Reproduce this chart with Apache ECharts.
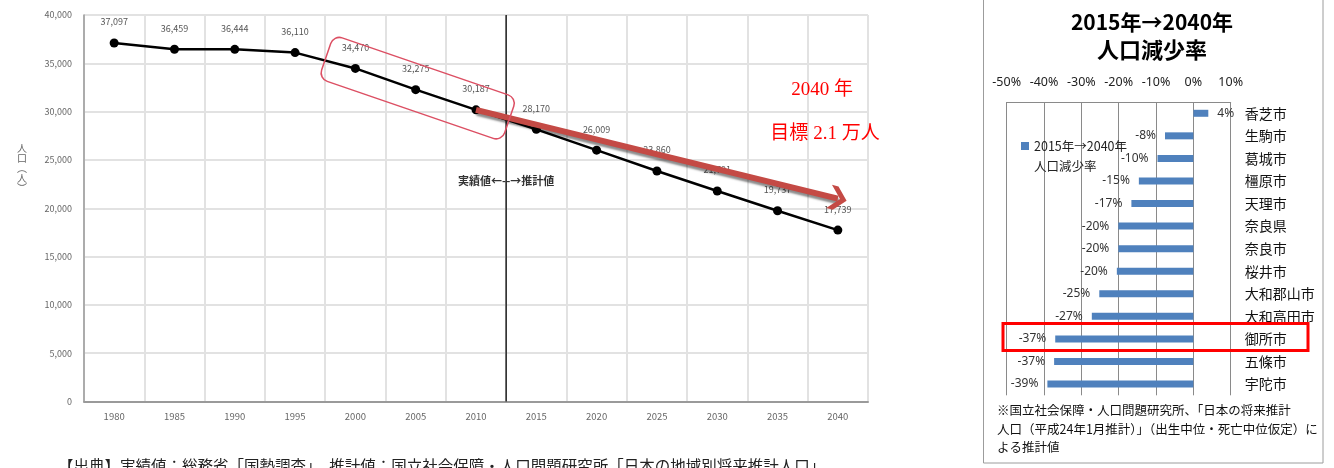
<!DOCTYPE html>
<html>
<head>
<meta charset="utf-8">
<title>御所市 人口推移と人口減少率</title>
<style>
html, body { margin: 0; padding: 0; background: #fff; }
#main { width: 1334px; height: 468px; }
</style>
<script src="https://cdn.jsdelivr.net/npm/echarts@6/dist/echarts.min.js"></script>
</head>
<body>
<div id="main"></div>
<script type="text/javascript">
// left chart: population (actual until 2010, projection from 2015)
var years = ['1980', '1985', '1990', '1995', '2000', '2005', '2010', '2015', '2020', '2025', '2030', '2035', '2040'];
var population = [37097, 36459, 36444, 36110, 34470, 32275, 30187, 28170, 26009, 23860, 21791, 19737, 17739];
var popTicks = { min: 0, max: 40000, interval: 5000 };
var dividerPos = 7;          // boundary between 2010 (actual) and 2015 (projection)
var targetYear = '2040';
var targetPop = 21000;       // 目標 2.1万人
var boxFrom = '2000', boxTo = '2010';

// right chart: decline rate 2015 -> 2040
var cities = ['香芝市', '生駒市', '葛城市', '橿原市', '天理市', '奈良県', '奈良市', '桜井市', '大和郡山市', '大和高田市', '御所市', '五條市', '宇陀市'];
var rates = [4.0, -7.6, -9.6, -14.6, -16.6, -20.1, -20.1, -20.5, -25.2, -27.2, -37.0, -37.3, -39.1];
var rateTicks = { min: -50, max: 10, interval: 10 };
var highlightCity = '御所市';

var jp = "'Noto Sans CJK JP', 'Noto Sans', sans-serif";
var chevron = 'path://M0,16 L10,6 L20,16 L20,10 L10,0 L0,10 Z';
// square on the first text line (tiny speck keeps the icon box tall)
var legendIcon = 'path://M0,0 H8 V8 H0 Z M0,27.9 H0.02 V28 H0 Z';

var chartDom = document.getElementById('main');
var myChart = echarts.init(chartDom);

var option = {
  animation: false,
  backgroundColor: '#fff',
  textStyle: { fontFamily: jp },
  grid: [
    { left: 84, right: 466, top: 15, bottom: 66.5 },
    { left: 1006.7, right: 103.3, top: 102, bottom: 72.7 }
  ],
  legend: {
    left: 1016, top: 131,
    itemWidth: 8, itemHeight: 28, itemGap: 4,
    icon: legendIcon,
    textStyle: { fontSize: 12.5, color: '#222', lineHeight: 20, fontFamily: jp },
    data: ['2015年→2040年\n人口減少率']
  },
  xAxis: [
    {
      type: 'category', gridIndex: 0, data: years, boundaryGap: true,
      axisLine: { lineStyle: { color: '#9a9a9a', width: 2 } },
      axisTick: { show: false },
      axisLabel: { fontSize: 9.5, color: '#666', margin: 10 },
      splitLine: { show: true, lineStyle: { color: '#e2e2e2', width: 2 } }
    },
    {
      type: 'value', gridIndex: 0, min: 0, max: years.length, show: false
    },
    {
      type: 'value', gridIndex: 1, position: 'top',
      min: rateTicks.min, max: rateTicks.max, interval: rateTicks.interval,
      axisLine: { show: true, lineStyle: { color: '#8a8a8a' } },
      axisTick: { show: false },
      axisLabel: { formatter: '{value}%', fontSize: 12.5, color: '#222', margin: 13, fontFamily: "'Noto Sans', sans-serif" },
      splitLine: { show: true, lineStyle: { color: '#8a8a8a' } }
    }
  ],
  yAxis: [
    {
      type: 'value', gridIndex: 0,
      min: popTicks.min, max: popTicks.max, interval: popTicks.interval,
      axisLine: { show: true, lineStyle: { color: '#9a9a9a', width: 1.5 } },
      axisTick: { show: false },
      axisLabel: { fontSize: 9, color: '#666', margin: 12, formatter: function (v) { return v.toLocaleString('en-US'); } },
      splitLine: { show: true, lineStyle: { color: '#e2e2e2', width: 2 } }
    },
    {
      type: 'category', gridIndex: 1, data: cities, inverse: true, position: 'right',
      axisLine: { show: false },
      axisTick: { show: false },
      axisLabel: { fontSize: 14, color: '#111', margin: 14, align: 'left' },
      splitLine: { show: false }
    }
  ],
  series: [
    {
      name: '人口', type: 'line', xAxisIndex: 0, yAxisIndex: 0,
      data: population,
      symbol: 'circle', symbolSize: 9,
      itemStyle: { color: '#000' },
      lineStyle: { color: '#000', width: 2.5 },
      label: {
        show: true, position: 'top', distance: 12,
        fontSize: 9, color: '#555',
        formatter: function (p) { return p.value.toLocaleString('en-US'); }
      },
      markLine: {
        silent: true,
        symbol: ['none', chevron],
        symbolSize: [24, 18],
        label: { show: false },
        lineStyle: {
          color: '#c44a45', width: 6, type: 'solid',
          shadowColor: 'rgba(0,0,0,0.45)', shadowOffsetY: 3, shadowOffsetX: 1, shadowBlur: 2
        },
        itemStyle: { color: '#c44a45' },
        data: [[
          { coord: [years.indexOf('2010'), population[years.indexOf('2010')]] },
          { coord: [years.indexOf(targetYear), targetPop] }
        ]]
      },
      z: 3
    },
    {
      name: 'divider', type: 'line', xAxisIndex: 1, yAxisIndex: 0,
      data: [[dividerPos, popTicks.min], [dividerPos, popTicks.max]],
      symbol: 'none', silent: true,
      lineStyle: { color: '#222', width: 1.5 },
      z: 2
    },
    {
      name: '2015年→2040年\n人口減少率', type: 'bar', xAxisIndex: 2, yAxisIndex: 1,
      barWidth: 7,
      itemStyle: { color: '#4f81bd' },
      label: {
        show: true, fontSize: 12, color: '#333', distance: 9,
        fontFamily: "'Noto Sans', sans-serif",
        formatter: function (p) { return Math.round(p.value) + '%'; }
      },
      data: rates.map(function (v) {
        return { value: v, label: { position: v < 0 ? 'left' : 'right' } };
      })
    }
  ]
};
myChart.setOption(option);

// annotations placed from the axes
var p1 = myChart.convertToPixel({ xAxisIndex: 0, yAxisIndex: 0 }, [years.indexOf(boxFrom), population[years.indexOf(boxFrom)]]);
var p2 = myChart.convertToPixel({ xAxisIndex: 0, yAxisIndex: 0 }, [years.indexOf(boxTo), population[years.indexOf(boxTo)]]);
var ang = Math.atan2(p2[1] - p1[1], p2[0] - p1[0]);
var len = Math.sqrt(Math.pow(p2[0] - p1[0], 2) + Math.pow(p2[1] - p1[1], 2)) + 66;
var boxH = 46;
var divX = myChart.convertToPixel({ xAxisIndex: 1 }, dividerPos);
var hy = myChart.convertToPixel({ yAxisIndex: 1 }, highlightCity);

myChart.setOption({
  graphic: [
    {
      type: 'rect', x: (p1[0] + p2[0]) / 2 + 2, y: (p1[1] + p2[1]) / 2 - 1, rotation: -ang,
      shape: { x: -len / 2, y: -boxH / 2, width: len, height: boxH, r: 9 },
      style: { fill: 'none', stroke: '#dc4f63', lineWidth: 1.5 }, z: 10
    },
    {
      type: 'text', x: divX, y: 181,
      style: { text: '実績値←--→推計値', fill: '#333', font: "bold 11px " + jp, align: 'center', verticalAlign: 'middle' }, z: 10
    },
    {
      type: 'text', x: 22, y: 168,
      style: { text: '人\n口\n︵\n人\n︶', fill: '#666', font: "10px " + jp, lineHeight: 10, align: 'center', verticalAlign: 'middle' }
    },
    {
      type: 'text', x: 822, y: 90,
      style: { text: '2040 年', fill: '#ff0000', font: "19px 'Liberation Serif', " + jp, align: 'center', verticalAlign: 'middle' }
    },
    {
      type: 'text', x: 825, y: 134,
      style: { text: '目標 2.1 万人', fill: '#ff0000', font: "19px 'Liberation Serif', " + jp, align: 'center', verticalAlign: 'middle' }
    },
    {
      type: 'text', x: 58, y: 458,
      style: { text: '【出典】実績値：総務省「国勢調査」、推計値：国立社会保障・人口問題研究所「日本の地域別将来推計人口」', fill: '#222', font: "15.5px " + jp }
    },
    // right panel frame and texts
    {
      type: 'rect', shape: { x: 983.5, y: -5, width: 339.5, height: 468 },
      style: { fill: 'none', stroke: '#9c9c9c', lineWidth: 1 }
    },
    {
      type: 'text', x: 1152, y: 22,
      style: { text: '2015年→2040年', fill: '#000', font: "bold 21px " + jp, align: 'center', verticalAlign: 'middle' }
    },
    {
      type: 'text', x: 1152, y: 50,
      style: { text: '人口減少率', fill: '#000', font: "bold 22px " + jp, align: 'center', verticalAlign: 'middle' }
    },
    {
      type: 'rect', shape: { x: 1003, y: hy - 15.5, width: 305, height: 27 },
      style: { fill: 'none', stroke: '#ff0000', lineWidth: 3 }, z: 10
    },
    {
      type: 'text', x: 997, y: 401,
      style: {
        text: '※国立社会保障・人口問題研究所、「日本の将来推計\n人口（平成24年1月推計）」（出生中位・死亡中位仮定）に\nよる推計値',
        fill: '#111', font: "12.5px " + jp, lineHeight: 18.5
      }
    }
  ]
});
</script>
</body>
</html>
